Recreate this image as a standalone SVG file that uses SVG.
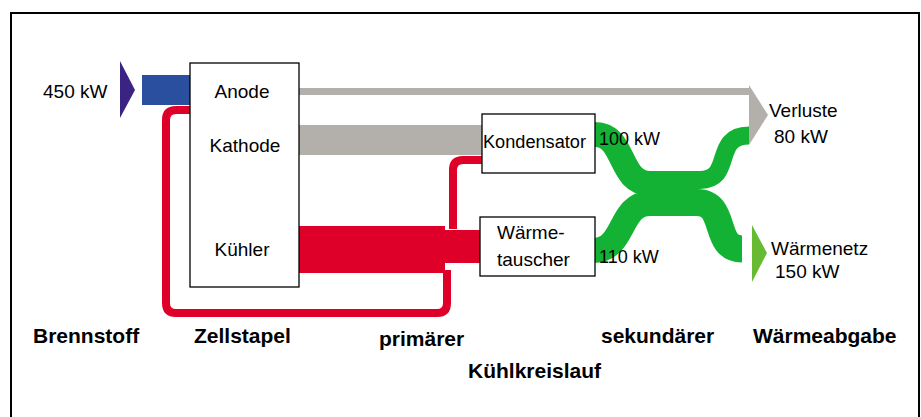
<svg xmlns="http://www.w3.org/2000/svg" width="921" height="417" viewBox="0 0 921 417">
<style>
.t{font-family:"Liberation Sans",Arial,sans-serif;font-size:19px;fill:#000}
.b{font-family:"Liberation Sans",Arial,sans-serif;font-size:21px;font-weight:bold;fill:#000}
.box{fill:#fff;stroke:#000;stroke-width:1.3}
.red{fill:none;stroke:#df0029;stroke-width:8}
.grn{fill:none;stroke:#14b234;stroke-linecap:butt}
</style>
<rect x="0" y="0" width="921" height="417" fill="#fff"/>
<rect x="11" y="13" width="908" height="420" fill="none" stroke="#000" stroke-width="2"/>

<g id="connectors">
  <!-- fuel -->
  <rect x="142" y="75" width="50" height="30" fill="#2a4f9e"/>
  <!-- anode loss line -->
  <rect x="299" y="88" width="450" height="7" fill="#b3b0ab"/>
  <!-- cathode band -->
  <rect x="299" y="125" width="183" height="30" fill="#b3b0ab"/>
  <!-- primary cooling -->
  <rect x="299" y="226" width="146" height="47" fill="#df0029"/>
  <rect x="443" y="230" width="38" height="33" fill="#df0029"/>
  <path class="red" d="M190,110 L176,110 Q166,110 166,120 L166,303 Q166,313 176,313 L437,313 Q447,313 447,303 L447,270"/>
  <path class="red" d="M453,229 L453,170 Q453,160 463,160 L482,160"/>
  <!-- secondary cooling -->
  <path class="grn" stroke-width="25" d="M595,134.5 C626,134.5 618,183.5 650,183.5 L692,183.5"/>
  <path class="grn" stroke-width="25" d="M593,250.5 C626,250.5 618,203.5 650,203.5 L692,203.5"/>
  <path class="grn" stroke-width="18" d="M685,180 L700,180 C734,180 712,135.5 749,135.5"/>
  <path class="grn" stroke-width="27" d="M680,202.5 L697,202.5 C728,202.5 712,249 742,249"/>
</g>

<g id="brennstoff">
  <polygon points="120,61 135,90 120,118" fill="#3b2383"/>
  <text class="t" x="43" y="98">450 kW</text>
</g>

<g id="zellstapel">
  <rect class="box" x="190" y="63" width="109" height="224"/>
  <text class="t" x="242" y="98" text-anchor="middle">Anode</text>
  <text class="t" x="245" y="152" text-anchor="middle">Kathode</text>
  <text class="t" x="242" y="256" text-anchor="middle">Kühler</text>
</g>

<g id="kondensator">
  <rect class="box" x="482" y="114" width="113" height="59"/>
  <text class="t" x="483" y="148" font-size="18" textLength="103" lengthAdjust="spacingAndGlyphs" style="font-size:18px">Kondensator</text>
</g>

<g id="waermetauscher">
  <rect class="box" x="480" y="217" width="115" height="59"/>
  <text class="t" x="497" y="239">Wärme-</text>
  <text class="t" x="497" y="266">tauscher</text>
</g>

<g id="labels-flow">
  <text class="t" x="599" y="145" style="font-size:18px">100 kW</text>
  <text class="t" x="599" y="263" style="font-size:18px">110 kW</text>
</g>

<g id="verluste">
  <polygon points="749,85 768,115 749,145" fill="#b3b0ab"/>
  <text class="t" x="769" y="117">Verluste</text>
  <text class="t" x="774" y="143">80 kW</text>
</g>

<g id="waermenetz">
  <polygon points="752,225 767,253 752,282" fill="#66bb33"/>
  <text class="t" x="771" y="255">Wärmenetz</text>
  <text class="t" x="775" y="278">150 kW</text>
</g>

<g id="captions">
  <text class="b" x="33" y="343">Brennstoff</text>
  <text class="b" x="194" y="343">Zellstapel</text>
  <text class="b" x="379" y="346">primärer</text>
  <text class="b" x="601" y="343">sekundärer</text>
  <text class="b" x="753" y="343">Wärmeabgabe</text>
  <text class="b" x="468" y="378">Kühlkreislauf</text>
</g>
</svg>
